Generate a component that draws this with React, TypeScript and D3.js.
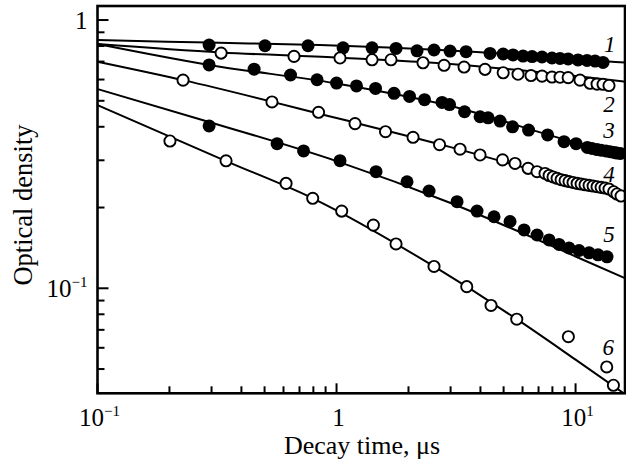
import React from "react";
import * as d3 from "d3";

// ---- data ----
const s1x = [0.293, 0.502, 0.76, 1.065, 1.408, 1.774, 2.172, 2.558, 2.985, 3.483, 4.387, 4.977, 5.476, 6.03, 6.58, 7.24, 7.97, 8.61, 9.31, 10.24, 11.17, 12.07, 13.03];
const s1y = [0.807, 0.802, 0.802, 0.788, 0.788, 0.784, 0.768, 0.773, 0.766, 0.762, 0.751, 0.747, 0.741, 0.734, 0.731, 0.728, 0.722, 0.719, 0.716, 0.71, 0.707, 0.703, 0.695];

const s2x = [0.329, 0.664, 1.034, 1.408, 1.69, 2.3, 2.818, 3.416, 4.18, 4.98, 5.745, 6.51, 7.24, 7.97, 8.61, 9.31, 10.44, 11.5, 12.3, 13.03, 13.8];
const s2y = [0.753, 0.732, 0.722, 0.711, 0.711, 0.693, 0.678, 0.668, 0.655, 0.636, 0.628, 0.621, 0.618, 0.613, 0.612, 0.61, 0.597, 0.581, 0.577, 0.576, 0.57];

const s3x = [0.293, 0.452, 0.642, 0.829, 1.0, 1.212, 1.456, 1.74, 2.02, 2.334, 2.763, 2.97, 3.432, 3.985, 4.305, 4.83, 5.45, 6.36, 7.64, 8.95, 10.05, 11.2, 11.72, 12.3, 12.79, 13.4, 13.94, 14.5, 14.9, 15.4];
const s3y = [0.68, 0.656, 0.624, 0.599, 0.582, 0.568, 0.556, 0.533, 0.519, 0.505, 0.493, 0.484, 0.455, 0.436, 0.432, 0.42, 0.4, 0.389, 0.373, 0.352, 0.346, 0.335, 0.332, 0.329, 0.327, 0.325, 0.323, 0.321, 0.3193, 0.318];

const s4x = [0.228, 0.537, 0.841, 1.195, 1.603, 2.09, 2.698, 3.287, 3.985, 4.95, 5.583, 6.33, 6.9, 7.45, 7.75, 8.05, 8.37, 8.7, 9.04, 9.39, 9.76, 10.15, 10.55, 10.96, 11.39, 11.84, 12.3, 12.79, 13.29, 13.8, 14.43, 14.9, 15.5];
const s4y = [0.597, 0.495, 0.453, 0.411, 0.3835, 0.3654, 0.343, 0.33, 0.314, 0.301, 0.292, 0.28, 0.272, 0.268, 0.2633, 0.26, 0.257, 0.254, 0.252, 0.25, 0.248, 0.246, 0.2447, 0.2432, 0.2419, 0.2405, 0.2391, 0.2378, 0.2364, 0.2344, 0.229, 0.2246, 0.2208];

const s5x = [0.293, 0.564, 0.728, 1.034, 1.463, 1.972, 2.438, 3.193, 3.87, 4.56, 5.32, 6.09, 6.9, 7.75, 8.53, 9.39, 10.34, 11.39, 12.42, 13.54];
const s5y = [0.403, 0.346, 0.325, 0.299, 0.272, 0.2495, 0.2305, 0.2103, 0.194, 0.1848, 0.1774, 0.165, 0.158, 0.1514, 0.1457, 0.1413, 0.1383, 0.1356, 0.1333, 0.131];

const s6x = [0.201, 0.345, 0.615, 0.795, 1.051, 1.426, 1.774, 2.558, 3.506, 4.43, 5.675, 9.33, 13.5, 14.4];
const s6y = [0.354, 0.2987, 0.246, 0.2165, 0.194, 0.172, 0.1463, 0.1206, 0.1014, 0.0863, 0.0767, 0.066, 0.0509, 0.0435];

// fitted curves
const f1x = [0.1, 0.293, 0.85, 2.985, 10, 16.1];
const f1y = [0.842, 0.824, 0.807, 0.77, 0.716, 0.694];
const f2x = [0.1, 0.329, 1, 3, 10, 16.1];
const f2y = [0.814, 0.757, 0.725, 0.686, 0.618, 0.589];
const f3x = [0.1, 0.293, 1, 3, 10, 16.1];
const f3y = [0.814, 0.68, 0.58, 0.478, 0.35, 0.317];
const f4x = [0.1, 0.228, 1, 3, 10, 16.1];
const f4y = [0.699, 0.597, 0.431, 0.336, 0.248, 0.219];
const f5x = [0.1, 0.293, 1, 3, 10, 16.1];
const f5y = [0.553, 0.417, 0.298, 0.208, 0.1314, 0.109];
const f6x = [0.1, 0.345, 0.795, 2.558, 5.675, 10, 16.1];
const f6y = [0.482, 0.298, 0.2165, 0.1206, 0.0767, 0.0542, 0.0403];

const seriesLabels = ["1", "2", "3", "4", "5", "6"];
const labelX = [13.9, 13.8, 13.8, 13.8, 13.8, 13.7];
const labelY = [0.76, 0.453, 0.364, 0.249, 0.1488, 0.0564];

const xMajor = [0.1, 1, 10];
const xMinor = [0.2, 0.3, 0.4, 0.5, 0.6, 0.7, 0.8, 0.9, 2, 3, 4, 5, 6, 7, 8, 9];
const yMajor = [1, 0.1];
const yMinor = [0.9, 0.8, 0.7, 0.6, 0.5, 0.4, 0.3, 0.2, 0.09, 0.08, 0.07, 0.06, 0.05];
const xTickBase = ["10", "1", "10"];
const xTickSup = ["−1", "", "1"];
const yTickBase = ["1", "10"];
const yTickSup = ["", "−1"];

const xTitle = "Decay time, μs";
const yTitle = "Optical density";

const W = 626;
const H = 464;
const L = 97.5, R = 625, T = 6, B = 393.3;
const FONT = "'Liberation Serif', 'Times New Roman', serif";

const x = d3.scaleLog().domain([0.1, 16.1]).range([L, R]);
const y = d3.scaleLog().domain([0.0406, 1.128]).range([B, T]);

const zip = (a: number[], b: number[]) => a.map((v, i) => [v, b[i]] as [number, number]);

const series = [
  { pts: zip(s1x, s1y), filled: true, fit: zip(f1x, f1y) },
  { pts: zip(s2x, s2y), filled: false, fit: zip(f2x, f2y) },
  { pts: zip(s3x, s3y), filled: true, fit: zip(f3x, f3y) },
  { pts: zip(s4x, s4y), filled: false, fit: zip(f4x, f4y) },
  { pts: zip(s5x, s5y), filled: true, fit: zip(f5x, f5y) },
  { pts: zip(s6x, s6y), filled: false, fit: zip(f6x, f6y) },
];

const line = d3
  .line<[number, number]>()
  .x((d) => x(d[0]))
  .y((d) => y(d[1]))
  .curve(d3.curveMonotoneX);

export default function App() {
  return (
    <svg
      width={W}
      height={H}
      style={{ position: "absolute", left: 0, top: 0, background: "#fff" }}
      fontFamily={FONT}
    >
      <defs>
        <clipPath id="plot">
          <rect x={L} y={T} width={R - L} height={B - T} />
        </clipPath>
      </defs>
      <rect x={0} y={0} width={W} height={H} fill="#fff" />
      <g clipPath="url(#plot)">
        {series.map((s, i) => (
          <path key={"f" + i} d={line(s.fit) || ""} fill="none" stroke="#000" strokeWidth={2} />
        ))}
        {series.map((s, i) => (
          <g key={"p" + i}>
            {s.pts.map((d, j) =>
              s.filled ? (
                <circle key={j} cx={x(d[0])} cy={y(d[1])} r={6.5} fill="#000" />
              ) : (
                <circle key={j} cx={x(d[0])} cy={y(d[1])} r={5.6} fill="#fff" stroke="#000" strokeWidth={1.9} />
              )
            )}
          </g>
        ))}
      </g>
      {/* frame */}
      <rect x={L} y={T} width={R - L} height={B - T} fill="none" stroke="#000" strokeWidth={2.6} />
      {/* ticks */}
      {yMajor.map((v) => (
        <line key={"ym" + v} x1={L} x2={L + 11} y1={y(v)} y2={y(v)} stroke="#000" strokeWidth={2} />
      ))}
      {yMinor.map((v) => (
        <line key={"yn" + v} x1={L} x2={L + 7} y1={y(v)} y2={y(v)} stroke="#000" strokeWidth={2} />
      ))}
      {xMajor.map((v) => (
        <line key={"xm" + v} x1={x(v)} x2={x(v)} y1={B} y2={B - 10} stroke="#000" strokeWidth={2} />
      ))}
      {xMinor.map((v) => (
        <line key={"xn" + v} x1={x(v)} x2={x(v)} y1={B} y2={B - 7} stroke="#000" strokeWidth={2} />
      ))}
      {/* y tick labels */}
      {yMajor.map((v, i) => (
        <text key={"yl" + v} x={L - 10} y={y(v) + 9} textAnchor="end" fontSize={25} fill="#000">
          {yTickBase[i]}
          {yTickSup[i] ? (
            <tspan dy={-10} fontSize={15}>
              {yTickSup[i]}
            </tspan>
          ) : null}
        </text>
      ))}
      {/* x tick labels */}
      {xMajor.map((v, i) => (
        <text key={"xl" + v} x={x(v) + 2} y={426} textAnchor="middle" fontSize={25} fill="#000">
          {xTickBase[i]}
          {xTickSup[i] ? (
            <tspan dy={-10} fontSize={15}>
              {xTickSup[i]}
            </tspan>
          ) : null}
        </text>
      ))}
      {/* series labels */}
      {seriesLabels.map((t, i) => (
        <text key={"sl" + i} x={x(labelX[i])} y={y(labelY[i])} textAnchor="middle" fontSize={23} fontStyle="italic" fill="#000">
          {t}
        </text>
      ))}
      {/* axis titles */}
      <text x={362} y={454} textAnchor="middle" fontSize={26} fill="#000">
        {xTitle}
      </text>
      <text transform="translate(32,205) rotate(-90)" textAnchor="middle" fontSize={26.5} fill="#000">
        {yTitle}
      </text>
    </svg>
  );
}
